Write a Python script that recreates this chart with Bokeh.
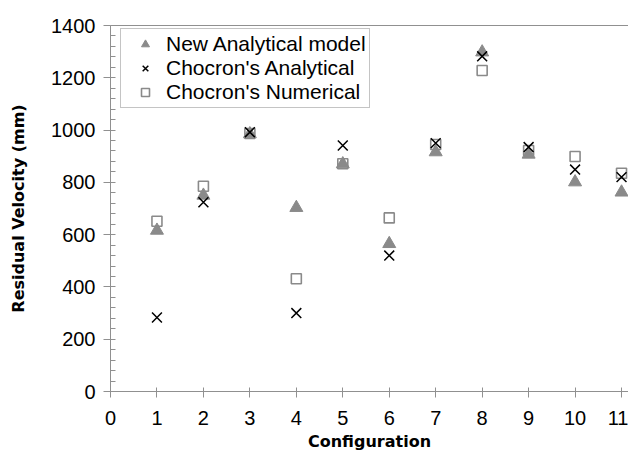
from bokeh.plotting import figure
from bokeh.models import Range1d, LinearAxis, FixedTicker, Legend, LegendItem
from bokeh.embed import file_html
from bokeh.resources import INLINE

configuration = [1, 2, 3, 4, 5, 6, 7, 8, 9, 10, 11]
new_analytical = [616, 750, 985, 703, 870, 565, 916, 1298, 907, 801, 762]
chocron_analytical = [283, 724, 992, 300, 941, 520, 950, 1282, 935, 849, 820]
chocron_numerical = [651, 785, 987, 431, 871, 664, 945, 1228, 922, 899, 835]
x_ticks = list(range(0, 12))
y_ticks = list(range(0, 1401, 200))
y_minor = list(range(0, 1401, 40))

GRAY = "#8a8a8a"
AXIS = "#909090"
FONT = "Liberation Sans"

p = figure(width=628, height=453, output_backend="svg", toolbar_location=None,
           x_range=Range1d(0, 11.15), y_range=Range1d(0, 1400),
           min_border_left=110, min_border_right=0, min_border_top=25, min_border_bottom=62)
p.grid.visible = False
p.outline_line_color = None
p.background_fill_color = "white"

sq = p.scatter(configuration, chocron_numerical, marker="square", size=10,
               fill_color="white", line_color=GRAY, line_width=1.6)
tri = p.scatter(configuration, new_analytical, marker="triangle", size=13,
                fill_color=GRAY, line_color=GRAY, line_width=1)
xs = p.scatter(configuration, chocron_analytical, marker="x", size=14,
               line_color="black", line_width=1.5)

xa = p.xaxis[0]
xa.ticker = FixedTicker(ticks=x_ticks)
xa.axis_line_color = AXIS
xa.major_tick_line_color = AXIS
xa.major_tick_in = 4
xa.major_tick_out = 6
xa.minor_tick_line_color = None
xa.major_label_text_font = FONT
xa.major_label_text_font_size = "20px"
xa.major_label_text_color = "black"
xa.major_label_standoff = 13
xa.axis_label = "Configuration"
xa.axis_label_text_font = "DejaVu Sans"
xa.axis_label_text_font_style = "bold"
xa.axis_label_text_font_size = "16px"
xa.axis_label_text_color = "black"
xa.axis_label_standoff = 4

ya = p.yaxis[0]
ya.ticker = FixedTicker(ticks=y_ticks, minor_ticks=y_minor)
ya.axis_line_color = AXIS
ya.major_tick_line_color = AXIS
ya.minor_tick_line_color = AXIS
ya.major_tick_in = 0
ya.major_tick_out = 7
ya.minor_tick_in = 5
ya.minor_tick_out = 0
ya.major_label_text_font = FONT
ya.major_label_text_font_size = "20px"
ya.major_label_text_color = "black"
ya.major_label_standoff = 8
ya.axis_label = "Residual Velocity (mm)"
ya.axis_label_text_font = "DejaVu Sans"
ya.axis_label_text_font_style = "bold"
ya.axis_label_text_font_size = "16px"
ya.axis_label_text_color = "black"
ya.axis_label_standoff = 20

top = LinearAxis(ticker=FixedTicker(ticks=[]), axis_line_color=AXIS,
                 major_tick_line_color=None, minor_tick_line_color=None,
                 major_label_text_font_size="0px")
p.add_layout(top, "above")

legend = Legend(items=[
    LegendItem(label="New Analytical model", renderers=[tri]),
    LegendItem(label="Chocron's Analytical", renderers=[xs]),
    LegendItem(label="Chocron's Numerical", renderers=[sq]),
], location=(10, 283))
legend.label_text_font = FONT
legend.label_text_font_size = "21px"
legend.label_text_color = "black"
legend.border_line_color = GRAY
legend.border_line_width = 1.5
legend.background_fill_color = "white"
legend.padding = 3
legend.spacing = 0
legend.glyph_width = 42
legend.glyph_height = 20
legend.label_height = 20
legend.label_standoff = 0
legend.margin = 0
p.add_layout(legend, "center")

open("out.html", "w").write(file_html(p, INLINE))
